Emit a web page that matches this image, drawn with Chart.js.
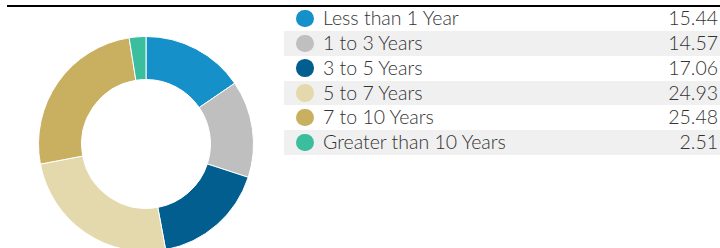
<!DOCTYPE html>
<html><head><meta charset="utf-8">
<script src="https://cdn.jsdelivr.net/npm/chart.js@4"></script>
<style>
html,body{margin:0;padding:0;width:720px;height:248px;overflow:hidden;background:#fff;}
#rule{position:absolute;left:7px;right:0;top:5px;height:2px;background:#000;}
#wrap{position:absolute;left:38px;top:36px;width:216px;height:216px;}
#legend{position:absolute;left:284px;top:6.3px;width:436px;font-family:Lato,"Open Sans",sans-serif;font-weight:300;font-size:19.5px;color:#333;}
.row{position:relative;height:24.75px;line-height:24.75px;}
.row.alt{background:#f0f0f0;}
.dot{position:absolute;left:12px;top:3.6px;width:17.5px;height:17.5px;border-radius:50%;}
.lbl{position:absolute;left:39px;top:0;white-space:nowrap;}
.val{position:absolute;right:2px;top:0;}
</style></head><body>
<div id="rule"></div>
<div id="wrap"><canvas id="c" width="216" height="216"></canvas></div>
<div id="legend"></div>
<script>
const categories = ["Less than 1 Year","1 to 3 Years","3 to 5 Years","5 to 7 Years","7 to 10 Years","Greater than 10 Years"];
const values = [15.44,14.57,17.06,24.93,25.48,2.51];
const valueLabels = ["15.44","14.57","17.06","24.93","25.48","2.51"];
const colors = ["#1590c8","#bfbfbf","#025e8f","#e4d8ad","#c9af60","#3bbe9d"];

new Chart(document.getElementById('c'), {
  type: 'doughnut',
  data: { labels: categories, datasets: [{ data: values, backgroundColor: colors, borderColor: '#ffffff', borderWidth: 1 }] },
  options: {
    responsive: false, animation: false, cutout: '60%',
    layout: { padding: 0 },
    plugins: { legend: { display: false }, tooltip: { enabled: false } }
  }
});

const lg = document.getElementById('legend');
categories.forEach((c, i) => {
  const r = document.createElement('div');
  r.className = 'row' + (i % 2 ? ' alt' : '');
  r.innerHTML = '<span class="dot" style="background:' + colors[i] + '"></span><span class="lbl">' + c + '</span><span class="val">' + valueLabels[i] + '</span>';
  lg.appendChild(r);
});
</script>
</body></html>
